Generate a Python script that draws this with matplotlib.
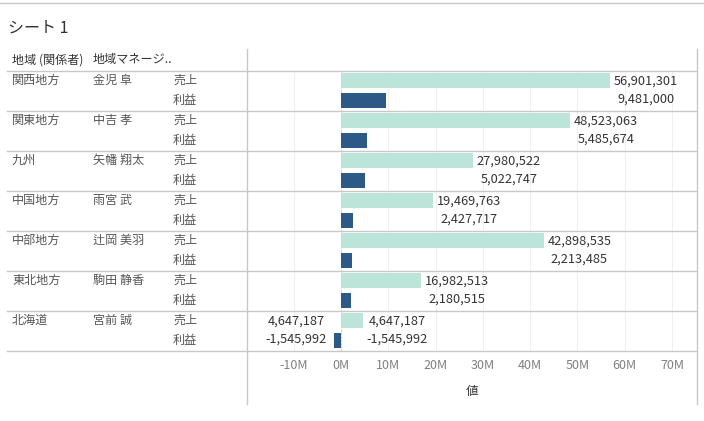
import matplotlib
matplotlib.use('Agg')
from matplotlib import pyplot as plt
from matplotlib.lines import Line2D
from matplotlib.transforms import blended_transform_factory

plt.rcParams['font.family'] = ['Noto Sans CJK JP', 'DejaVu Sans']

regions = ['関西地方', '関東地方', '九州', '中国地方', '中部地方', '東北地方', '北海道']
managers = ['金児 阜', '中吉 孝', '矢幡 翔太', '雨宮 武', '辻岡 美羽', '駒田 静香', '宮前 誠']
sales = [56901301, 48523063, 27980522, 19469763, 42898535, 16982513, 4647187]
profit = [9481000, 5485674, 5022747, 2427717, 2213485, 2180515, -1545992]
measures = ['売上', '利益']
ticks = [-10e6, 0, 10e6, 20e6, 30e6, 40e6, 50e6, 60e6, 70e6]
tick_labels = ['-10M', '0M', '10M', '20M', '30M', '40M', '50M', '60M', '70M']

SALES_C = '#bce4d8'
PROFIT_C = '#2c5985'
LINE_C = '#c8c8c8'
W, H = 704, 421

fig = plt.figure(figsize=(W / 100, H / 100), dpi=100)


def px(x, y, w=0, h=0):
    return [x / W, 1 - (y + h) / H, w / W, h / H]


ax = fig.add_axes(px(247, 70.7, 450, 280))
ax.set_xlim(-19.9e6, 75.3e6)
ax.set_ylim(14, 0)
for s in ax.spines.values():
    s.set_visible(False)

for t in ticks:
    ax.axvline(t, color='#efefef', lw=0.8, zorder=0)
ax.axvline(0, color='#bbbbbb', lw=0.8, ls=(0, (1, 2)), zorder=0.5)

n = len(regions)
ys_s = [2 * i + 0.5 for i in range(n)]
ys_p = [2 * i + 1.5 for i in range(n)]
ax.barh(ys_s, sales, height=0.75, color=SALES_C, zorder=2)
ax.barh(ys_p, profit, height=0.75, color=PROFIT_C, zorder=2)

ax.set_xticks(ticks)
ax.set_xticklabels(tick_labels)
ax.set_yticks([])
ax.tick_params(axis='x', length=0, pad=6, labelsize=9, labelcolor='#808080')
ax.set_xlabel('値', fontsize=9, color='#333333', labelpad=9)

# row text (table part on the left)
tr = blended_transform_factory(fig.transFigure, ax.transData)
for i in range(n):
    ax.text(12 / W, ys_s[i], regions[i], transform=tr, fontsize=8.7,
            color='#555555', va='center', ha='left')
    ax.text(93 / W, ys_s[i], managers[i], transform=tr, fontsize=8.7,
            color='#555555', va='center', ha='left')
    ax.text(173 / W, ys_s[i], measures[0], transform=tr, fontsize=8.7,
            color='#555555', va='center', ha='left')
    ax.text(173 / W, ys_p[i], measures[1], transform=tr, fontsize=8.7,
            color='#555555', va='center', ha='left')

for k in range(n + 1):
    fig.add_artist(Line2D([7 / W, 697 / W], [2 * k, 2 * k], transform=tr,
                          color=LINE_C, lw=1))

# header / frame lines
fig.add_artist(Line2D([0, 1], [1 - 2.5 / H, 1 - 2.5 / H], color=LINE_C, lw=1))
for xv in (247, 697):
    fig.add_artist(Line2D([xv / W, xv / W], [1 - 49 / H, 1 - 404 / H],
                          color=LINE_C, lw=1))

fig.text(8 / W, 1 - 28 / H, 'シート 1', fontsize=11.5, color='#333333', va='center')
fig.text(12 / W, 1 - 60 / H, '地域 (関係者)', fontsize=8.7, color='#333333', va='center')
fig.text(93 / W, 1 - 60 / H, '地域マネージ..', fontsize=8.7, color='#333333', va='center')

# value labels: two lines centred on each other
renderer = fig.canvas.get_renderer()


def fmt(v):
    return f'{v:,}'


def label_pair(i, x_anchor, gap, side):
    t1 = ax.text(0, 0, fmt(sales[i]), fontsize=9.2, color='#333333')
    t2 = ax.text(0, 0, fmt(profit[i]), fontsize=9.2, color='#333333')
    wmax = max(t1.get_window_extent(renderer).width,
               t2.get_window_extent(renderer).width)
    t1.remove()
    t2.remove()
    off = side * (gap + wmax / 2)
    for y, txt in ((ys_s[i], fmt(sales[i])), (ys_p[i] - 0.08, fmt(profit[i]))):
        ax.annotate(txt, xy=(x_anchor, y), xytext=(off, 0), textcoords='offset pixels',
                    ha='center', va='center', fontsize=9.2, color='#333333',
                    annotation_clip=False)


for i in range(n):
    right_end = max(sales[i], profit[i], 0)
    label_pair(i, right_end, 3.5, 1)
    if min(sales[i], profit[i]) < 0:
        label_pair(i, min(sales[i], profit[i]), 7, -1)

fig.savefig('out.png', dpi=100)
